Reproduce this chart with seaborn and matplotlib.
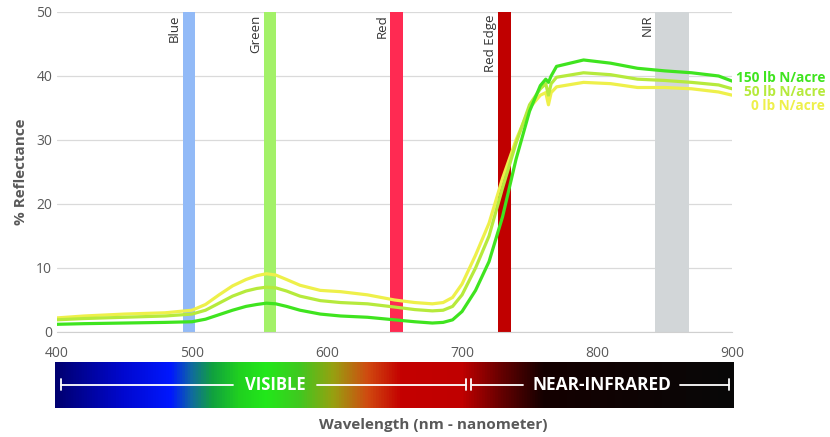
import numpy as np
import pandas as pd
import matplotlib
matplotlib.use('Agg')
import matplotlib.pyplot as plt
from matplotlib.colors import LinearSegmentedColormap
import seaborn as sns

# reflectance curves (nm -> % reflectance)
wl_0 = [400, 420, 450, 480, 500, 510, 520, 530, 540, 548, 555, 562, 570, 580, 595, 610, 630, 650, 665, 678, 686,
        693, 700, 710, 720, 730, 740, 750, 758, 762, 764, 766, 770, 790, 810, 830, 850, 870, 890, 900]
refl_0 = [2.2, 2.5, 2.8, 3.0, 3.4, 4.3, 5.8, 7.2, 8.2, 8.8, 9.1, 8.9, 8.2, 7.3, 6.5, 6.3, 5.8, 5.0, 4.6, 4.4, 4.6,
          5.4, 7.5, 12.0, 17.0, 24.0, 30.0, 35.0, 37.0, 37.4, 35.5, 37.4, 38.3, 39.0, 38.8, 38.2, 38.2, 38.0, 37.5, 37.0]

wl_50 = wl_0
refl_50 = [1.9, 2.1, 2.3, 2.5, 2.8, 3.4, 4.5, 5.6, 6.4, 6.8, 7.0, 6.9, 6.4, 5.6, 4.9, 4.6, 4.4, 3.9, 3.5, 3.3, 3.4,
           4.0, 5.8, 10.0, 15.0, 22.5, 29.5, 35.5, 38.0, 38.8, 37.0, 38.8, 39.8, 40.5, 40.2, 39.5, 39.3, 39.0, 38.6, 38.0]

wl_150 = wl_0
refl_150 = [1.2, 1.3, 1.4, 1.5, 1.6, 2.0, 2.7, 3.4, 4.0, 4.3, 4.5, 4.4, 4.0, 3.4, 2.8, 2.5, 2.3, 1.9, 1.6, 1.4, 1.5,
            1.9, 3.2, 6.5, 11.0, 18.0, 27.0, 34.5, 38.5, 39.5, 39.0, 40.0, 41.5, 42.5, 42.0, 41.2, 40.8, 40.5, 40.0, 39.2]

series_names = ["150 lb N/acre", "50 lb N/acre", "0 lb N/acre"]
series_colors = ["#3fe41f", "#b6ea3c", "#eef04a"]

# sensor bands: name, start nm, end nm, colour
band_names = ["Blue", "Green", "Red", "Red Edge", "NIR"]
band_start = [493, 553, 647, 727, 843]
band_end = [502, 562, 656, 736, 868]
band_colors = ["#92baf7", "#a3f168", "#ff2a52", "#c00000", "#d2d6d8"]

df = pd.concat([
    pd.DataFrame({"wavelength": wl_150, "reflectance": refl_150, "treatment": series_names[0]}),
    pd.DataFrame({"wavelength": wl_50, "reflectance": refl_50, "treatment": series_names[1]}),
    pd.DataFrame({"wavelength": wl_0, "reflectance": refl_0, "treatment": series_names[2]}),
])

sns.set_style("white")
plt.rcParams['font.family'] = ['Open Sans', 'DejaVu Sans']

fig = plt.figure(figsize=(8.3, 4.37), dpi=100)
ax = fig.add_axes([0.0687, 0.2403, 0.8133, 0.7323])

for name, s, e, c in zip(band_names, band_start, band_end, band_colors):
    ax.axvspan(s, e, color=c, lw=0, zorder=1)
    ax.text(s - 6, 49.6, name, rotation=90, ha="center", va="top",
            fontsize=9.5, color="#333333", zorder=4)

sns.lineplot(data=df, x="wavelength", y="reflectance", hue="treatment",
             hue_order=series_names[::-1], palette=dict(zip(series_names, series_colors)),
             legend=False, lw=2.3, ax=ax, zorder=3, sort=True)

ax.set_xlim(400, 900)
ax.set_ylim(0, 50)
ax.set_xticks([400, 500, 600, 700, 800, 900])
ax.set_yticks([0, 10, 20, 30, 40, 50])
ax.yaxis.grid(True, color="#dadada", lw=0.9, zorder=0)
ax.xaxis.grid(False)
for side in ["left", "right", "top"]:
    ax.spines[side].set_visible(False)
ax.spines["bottom"].set_color("#d0d0d0")
ax.tick_params(axis="both", length=0, labelsize=10, colors="#595959")
ax.tick_params(axis="x", pad=10)
ax.set_xlabel("")
ax.set_ylabel("% Reflectance", fontsize=11, fontweight="bold", color="#595959", labelpad=6)

# right-side labels for the three series
label_y = [39.7, 37.5, 35.3]
for name, c, yy in zip(series_names, series_colors, label_y):
    ax.text(969, yy, name, ha="right", va="center", fontsize=9.8, fontweight="bold",
            color=c, clip_on=False)

# colour spectrum bar
sax = fig.add_axes([0.0663, 0.0664, 0.818, 0.1053])
stops = [(0.0, "#000070"), (0.10, "#0008d0"), (0.17, "#0018ff"), (0.20, "#106aa0"),
         (0.23, "#10a040"), (0.27, "#20d020"), (0.31, "#22e81a"), (0.36, "#40c820"),
         (0.41, "#98a010"), (0.46, "#d04a10"), (0.51, "#c40000"), (0.60, "#c00000"),
         (0.66, "#620000"), (0.72, "#140000"), (1.0, "#080808")]
cmap = LinearSegmentedColormap.from_list("spectrum", stops)
sax.imshow(np.linspace(0, 1, 512)[None, :], aspect="auto", cmap=cmap, extent=[0, 1, 0, 1])
sax.set_xlim(0, 1)
sax.set_ylim(0, 1)
sax.axis("off")

lw_w = 1.3
for x0, x1 in [(0.0088, 0.262), (0.386, 0.605), (0.614, 0.689), (0.920, 0.993)]:
    sax.plot([x0, x1], [0.5, 0.5], color="white", lw=lw_w)
for xt in [0.0088, 0.605, 0.612, 0.993]:
    sax.plot([xt, xt], [0.38, 0.62], color="white", lw=lw_w)
sax.text(0.324, 0.5, "VISIBLE", ha="center", va="center", color="white",
         fontsize=12, fontweight="bold")
sax.text(0.806, 0.5, "NEAR-INFRARED", ha="center", va="center", color="white",
         fontsize=12.5, fontweight="bold")

fig.text(0.522, 0.027, "Wavelength (nm - nanometer)", ha="center", va="center",
         fontsize=11, fontweight="bold", color="#595959")

fig.savefig("out.png", dpi=100)
